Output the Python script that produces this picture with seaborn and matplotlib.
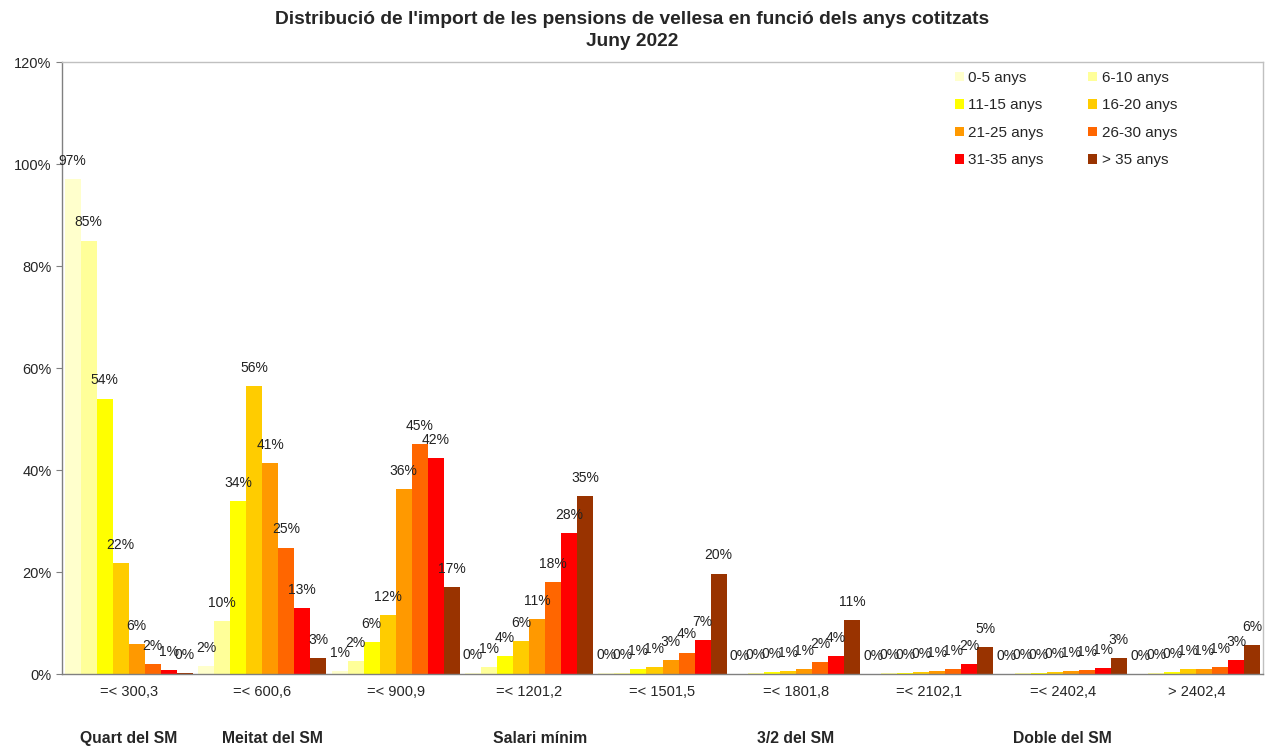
import matplotlib
matplotlib.use("Agg")
import matplotlib.pyplot as plt
import seaborn as sns
import pandas as pd

# categories (import ranges) and age groups
trams = ['=< 300,3', '=< 600,6', '=< 900,9', '=< 1201,2', '=< 1501,5',
         '=< 1801,8', '=< 2102,1', '=< 2402,4', '> 2402,4']
anys = ['0-5 anys', '6-10 anys', '11-15 anys', '16-20 anys',
        '21-25 anys', '26-30 anys', '31-35 anys', '> 35 anys']
colors = ['#FFFFCC', '#FFFF99', '#FFFF00', '#FFCC00',
          '#FF9900', '#FF6600', '#FF0000', '#993300']

# percentage per age group, one value per import range
v_0_5 = [97.0, 1.6, 0.6, 0.1, 0.1, 0.0, 0.0, 0.0, 0.0]
v_6_10 = [85.0, 10.3, 2.5, 1.4, 0.2, 0.1, 0.1, 0.1, 0.1]
v_11_15 = [54.0, 33.9, 6.3, 3.6, 0.9, 0.3, 0.2, 0.2, 0.3]
v_16_20 = [21.7, 56.4, 11.6, 6.4, 1.4, 0.6, 0.4, 0.4, 0.9]
v_21_25 = [5.8, 41.3, 36.3, 10.7, 2.8, 0.9, 0.6, 0.6, 1.0]
v_26_30 = [1.9, 24.8, 45.1, 18.0, 4.2, 2.4, 1.0, 0.8, 1.4]
v_31_35 = [0.8, 13.0, 42.3, 27.6, 6.6, 3.6, 1.9, 1.2, 2.7]
v_35 = [0.2, 3.1, 17.0, 34.9, 19.7, 10.6, 5.3, 3.2, 5.6]

grups = ['Quart del SM', 'Meitat del SM', 'Salari mínim', '3/2 del SM', 'Doble del SM']
grup_pos = [0, 1.08, 3.08, 5.0, 7.0]

series = [v_0_5, v_6_10, v_11_15, v_16_20, v_21_25, v_26_30, v_31_35, v_35]
rows = []
for a, vals in zip(anys, series):
    for t, v in zip(trams, vals):
        rows.append({'tram': t, 'anys': a, 'pct': v})
df = pd.DataFrame(rows)

sns.set_style('white')
plt.rcParams['font.family'] = ['Liberation Sans', 'DejaVu Sans']

fig = plt.figure(figsize=(12.65, 7.47), dpi=100)
ax = fig.add_axes([62 / 1265, 1 - 674 / 747, 1201 / 1265, 612 / 747])

sns.barplot(data=df, x='tram', y='pct', hue='anys', hue_order=anys, order=trams,
            palette=colors, width=0.96, saturation=1, linewidth=0, ax=ax)

for cont, vals in zip(ax.containers, series):
    ax.bar_label(cont, labels=[f'{round(v)}%' for v in vals], padding=8,
                 fontsize=10, color='#222222')

ax.set_ylim(0, 120)
ax.set_yticks(range(0, 121, 20))
ax.set_yticklabels([f'{t}%' for t in range(0, 121, 20)], fontsize=10.5)
ax.set_xticks([i - 0.5 for i in range(len(trams) + 1)], minor=True)
ax.tick_params(axis='x', which='major', length=0, labelsize=10.5, pad=8)
ax.tick_params(axis='x', which='minor', length=4, color='#808080', direction='out')
ax.tick_params(axis='y', length=4, color='#808080', direction='out', left=True)
ax.set_xlim(-0.5, len(trams) - 0.5)
ax.set_xlabel('')
ax.set_ylabel('')

for side in ['left', 'bottom']:
    ax.spines[side].set_color('#808080')
for side in ['top', 'right']:
    ax.spines[side].set_color('#c0c0c0')
for s in ax.spines.values():
    s.set_linewidth(1)

for g, p in zip(grups, grup_pos):
    ax.text(p, -12.6, g, transform=ax.transData, ha='center', va='center',
            fontsize=11.3, fontweight='bold')

# legend filled row by row, like the original
handles, labels = ax.get_legend_handles_labels()
order = [0, 2, 4, 6, 1, 3, 5, 7]
ax.legend([handles[i] for i in order], [labels[i] for i in order],
          ncol=2, loc='upper right', bbox_to_anchor=(0.94, 1.008), frameon=False,
          fontsize=11, handlelength=0.6, handleheight=0.6, handletextpad=0.3,
          labelspacing=0.88, columnspacing=2.9)

fig.text(0.5, 1 - 20 / 747, "Distribució de l'import de les pensions de vellesa en funció dels anys cotitzats",
         ha='center', va='center', fontsize=13.8, fontweight='bold')
fig.text(0.5, 1 - 41 / 747, 'Juny 2022', ha='center', va='center',
         fontsize=13.8, fontweight='bold')

fig.savefig('out.png', dpi=100)
